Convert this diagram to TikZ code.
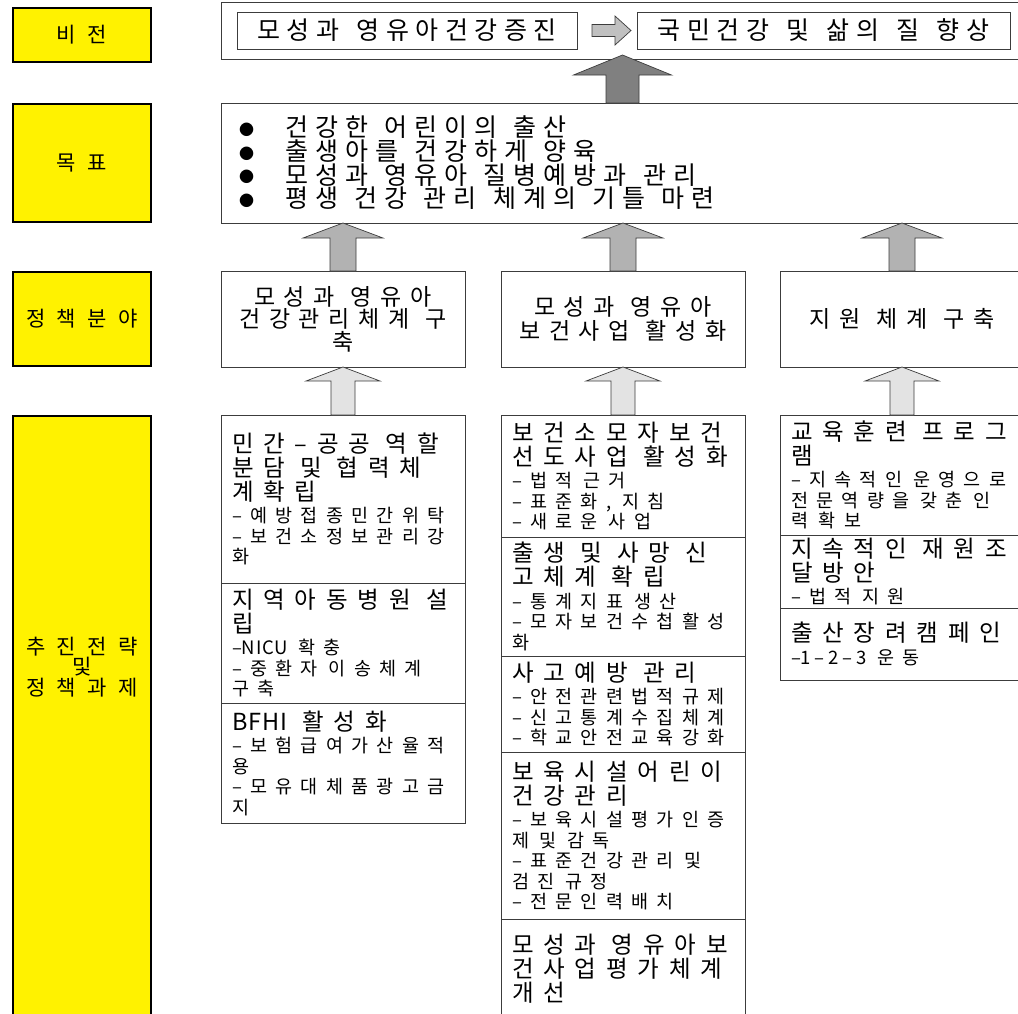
\documentclass[tikz,border=0pt]{standalone}
\usepackage{fontspec}
\setmainfont{Noto Sans CJK KR}
\newfontfamily\krlabel[LetterSpace=55]{Noto Sans CJK KR}
\newfontfamily\krhead[LetterSpace=42,WordSpace=1.0]{Noto Sans CJK KR}
\newfontfamily\krsub[LetterSpace=45,WordSpace=0.86]{Noto Sans CJK KR}
\newfontfamily\krvis[LetterSpace=26,WordSpace=1.43]{Noto Sans CJK KR}
\newfontfamily\krpol[LetterSpace=38,WordSpace=1.15]{Noto Sans CJK KR}
\newfontfamily\krgoal[LetterSpace=28,WordSpace=1.3]{Noto Sans CJK KR}
\usetikzlibrary{calc,positioning}

\definecolor{arrdark}{RGB}{128,128,128}
\definecolor{arrmid}{RGB}{178,178,178}
\definecolor{arrlight}{RGB}{227,227,227}
\definecolor{arrsmall}{RGB}{192,192,192}
\definecolor{boxline}{RGB}{60,60,60}

% title line inside a task cell
\newcommand{\cellttl}[1]{{\krhead\fontsize{23.5pt}{24pt}\selectfont #1}}
% latin letters keep (nearly) their normal spacing
\newcommand{\lat}[2][4]{{\addfontfeature{LetterSpace=#1}#2}}
% bullet of the goal list
\newcommand{\goalbul}{\makebox[46pt][l]{\raisebox{1.5pt}{\fontsize{15pt}{15pt}\selectfont ●}}}

% fat arrow pointing up: style, from, to, head half width, shaft half width, head length
\newcommand{\uparrowblock}[6]{%
  \draw[#1] let \p1=(#2), \p2=(#3) in
    (\x1-#5pt,\y1) -- (\x1-#5pt,\y2-#6pt) -- (\x1-#4pt,\y2-#6pt) -- (\x1,\y2)
    -- (\x1+#4pt,\y2-#6pt) -- (\x1+#5pt,\y2-#6pt) -- (\x1+#5pt,\y1) -- cycle;}

\tikzset{
  ybox/.style={draw=black, line width=2.2pt, fill=yellow, minimum width=138pt,
    outer sep=0pt, inner sep=0pt, align=center,
    font={\krlabel\fontsize{21pt}{20.5pt}\selectfont}},
  wbox/.style={draw=boxline, line width=0.8pt, fill=white, outer sep=0pt, inner sep=0pt},
  fontspaces/.style={execute at begin node={\spaceskip=0pt\xspaceskip=0pt\rightskip=-30pt plus 1fil\relax}},
  polbox/.style={wbox, anchor=north west, minimum width=244pt, minimum height=96pt,
    align=center, font={\krpol\fontsize{23pt}{22.5pt}\selectfont\lineskiplimit=-30pt}},
  cell/.style={wbox, fontspaces, minimum width=244pt, text width=222pt, inner xsep=11pt, align=left,
    font={\krsub\fontsize{18.5pt}{20.5pt}\selectfont\lineskiplimit=-30pt}},
  arrline/.style={draw=boxline, line width=0.7pt},
}

\begin{document}
\begin{tikzpicture}[x=1pt, y=-1pt]
  \useasboundingbox (0,0) rectangle (1018,1013);
  \clip (0,0) rectangle (1018,1013);

  % Row labels
  \node[ybox, minimum height=54pt] (lvis) at (82,35) {비전};
  \node[ybox, minimum height=118pt] (lgoal) at (82,163) {목표};
  \node[ybox, minimum height=94pt] (lpol) at (82,319) {정책분야};
  \node[ybox, minimum height=700pt, anchor=north] (lstrat) at (82,416) {};
  \node[align=center, font={\krlabel\fontsize{21pt}{20.5pt}\selectfont\lineskiplimit=-30pt}]
    (lstrattxt) at (82,667) {추진전략\\및\\정책과제};

  % Vision
  \node[wbox, anchor=north west, minimum width=803pt, minimum height=57pt] (vis) at (221,2) {};
  \node[wbox, anchor=north west, minimum width=340pt, minimum height=37pt,
    font={\krvis\fontsize{25pt}{24pt}\selectfont}] (v1) at (237,12) {모성과 영유아건강증진};
  \node[wbox, anchor=north west, minimum width=373pt, minimum height=37pt,
    font={\krvis\fontsize{25pt}{24pt}\selectfont}] (v2) at (637,12) {국민건강 및 삶의 질 향상};
  \draw[arrline, fill=arrsmall] let \p1=(v1.east), \p2=(v2.west) in
    (\x1+15pt,\y1+6pt) -- (\x2-22pt,\y1+6pt) -- (\x2-22pt,\y1+14.5pt) -- (\x2-6pt,\y1)
    -- (\x2-22pt,\y1-14.5pt) -- (\x2-22pt,\y1-6pt) -- (\x1+15pt,\y1-6pt) -- cycle;

  % Goals
  \node[wbox, fontspaces, anchor=north west, minimum width=803pt, minimum height=120pt,
    text width=767pt, inner xsep=18pt, align=left,
    font={\krgoal\fontsize{25pt}{23.7pt}\selectfont\lineskiplimit=-30pt}] (goal) at (221,103)
    {\goalbul 건강한 어린이의 출산\\
     \goalbul 출생아를 건강하게 양육\\
     \goalbul 모성과 영유아 질병예방과 관리\\
     \goalbul 평생 건강 관리 체계의 기틀 마련};

  % Policy areas
  \node[polbox] (pol1) at (221,271) {모성과 영유아\\건강관리체계 구\\축};
  \node[polbox] (pol2) at (501,271) {모성과 영유아\\[1.5pt]보건사업 활성화};
  \node[polbox] (pol3) at (780,271) {지원 체계 구축};

  % Tasks, first column
  \node[cell, anchor=north west, minimum height=168pt] (s11) at (221,415)
    {\cellttl{민간–공공 역할}\\[3.5pt]\cellttl{분담 및 협력체}\\[3.5pt]\cellttl{계확립}\\[2pt]
     –예방접종민간위탁\\–보건소정보관리강\\화};
  \node[cell, below=0pt of s11, minimum height=120pt] (s12)
    {\cellttl{지역아동병원 설}\\[3.5pt]\cellttl{립}\\[2pt]
     –\lat{NICU} 확충\\–중환자 이송체계\\구축};
  \node[cell, below=0pt of s12, minimum height=120pt] (s13)
    {\cellttl{\lat{BFHI} 활성화}\\[2pt]
     –보험급여가산율적\\용\\–모유대체품광고금\\지};

  % Tasks, second column
  \node[cell, anchor=north west, minimum height=122pt] (s21) at (501,415)
    {\cellttl{보건소모자보건}\\[3.5pt]\cellttl{선도사업 활성화}\\[2pt]
     –법적 근거\\–표준화, 지침\\–새로운 사업};
  \node[cell, below=0pt of s21, minimum height=119pt] (s22)
    {\cellttl{출생 및 사망 신}\\[3.5pt]\cellttl{고체계 확립}\\[2pt]
     –통계지표 생산\\–모자보건수첩활성\\화};
  \node[cell, below=0pt of s22, minimum height=96pt] (s23)
    {\cellttl{사고예방 관리}\\[2pt]
     –안전관련법적규제\\–신고통계수집체계\\–학교안전교육강화};
  \node[cell, below=0pt of s23, minimum height=167pt] (s24)
    {\cellttl{보육시설어린이}\\[3.5pt]\cellttl{건강관리}\\[2pt]
     –보육시설평가인증\\제 및 감독\\–표준건강관리 및\\검진 규정\\–전문인력배치};
  \node[cell, below=0pt of s24, minimum height=100pt] (s25)
    {\cellttl{모성과 영유아보}\\[3.5pt]\cellttl{건사업평가체계}\\[3.5pt]\cellttl{개선}};

  % Tasks, third column
  \node[cell, anchor=north west, minimum height=120pt] (s31) at (780,415)
    {\cellttl{교육훈련 프로그}\\[3.5pt]\cellttl{램}\\[2pt]
     –지속적인 운영으로\\전문역량을 갖춘 인\\력 확보};
  \node[cell, below=0pt of s31, minimum height=73pt] (s32)
    {\cellttl{지속적인 재원조}\\[3.5pt]\cellttl{달방안}\\[2pt]
     –법적 지원};
  \node[cell, below=0pt of s32, minimum height=72pt] (s33)
    {\cellttl{출산장려캠페인}\\[2pt]
     –\lat[20]{1–2–3} 운동};

  % Arrows
  \uparrowblock{arrline, fill=arrdark}{goal.north}{[yshift=4pt]vis.south}{49}{16.5}{20}
  \foreach \c in {1,2,3} {
    \uparrowblock{arrline, fill=arrmid}{pol\c.north}{goal.south}{40}{13}{15}
    \uparrowblock{arrline, fill=arrlight}{s\c1.north}{pol\c.south}{37}{12}{14}
  }
\end{tikzpicture}
\end{document}
